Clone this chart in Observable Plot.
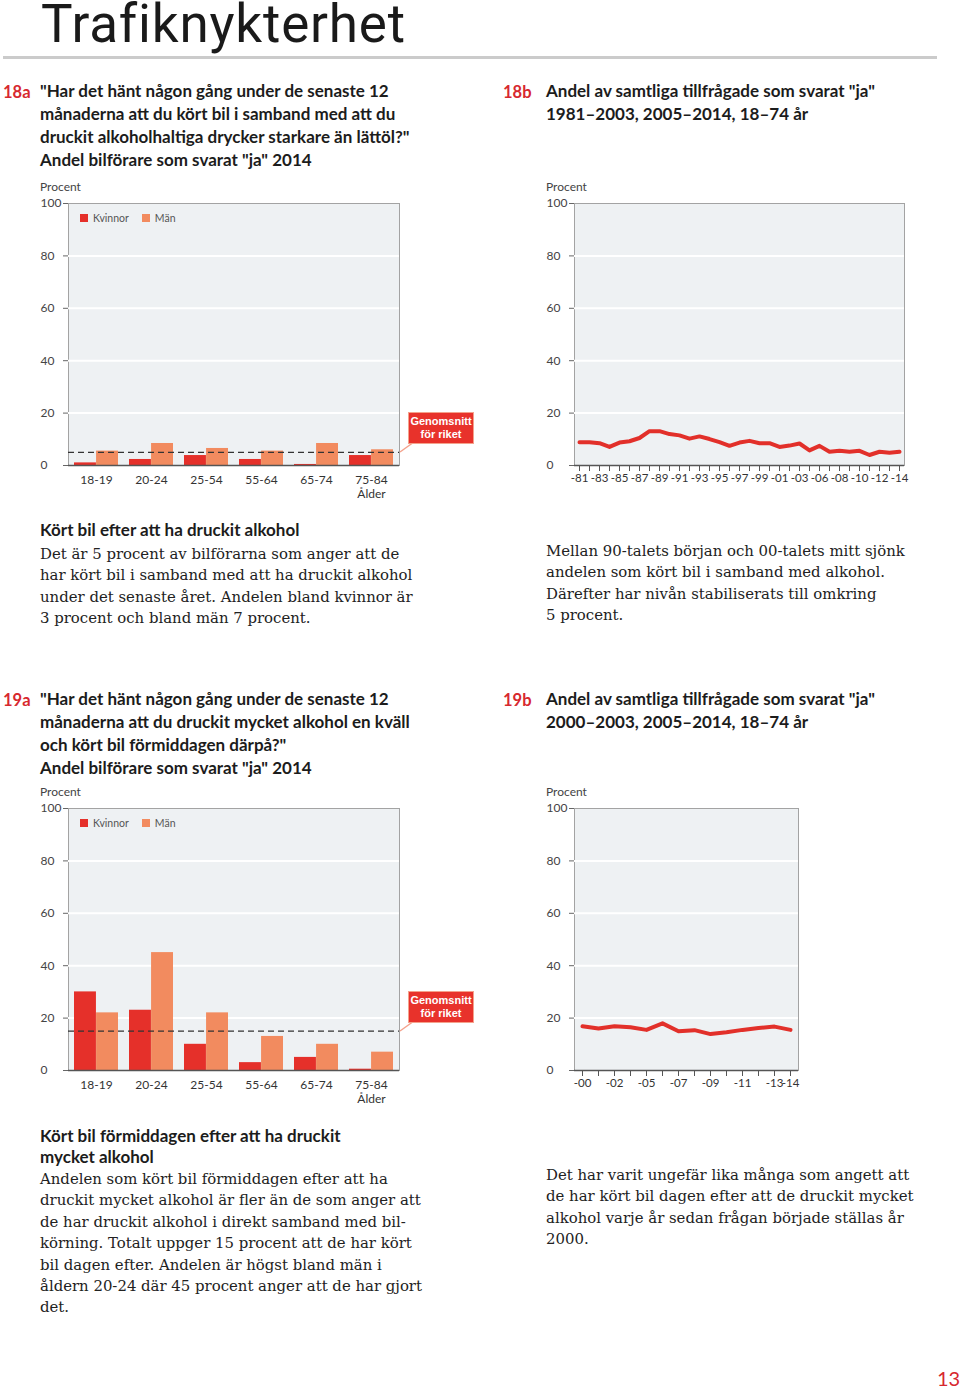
<!DOCTYPE html>
<html>
<head>
<meta charset="utf-8">
<script src="https://cdn.jsdelivr.net/npm/d3@7"></script>
<script src="https://cdn.jsdelivr.net/npm/@observablehq/plot@0.6"></script>
<style>
  html, body { margin: 0; padding: 0; background: #fff; }
  #page { position: relative; width: 960px; height: 1392px; overflow: hidden; }
  .abs { position: absolute; white-space: nowrap; }
  .title { font-family: Roboto, sans-serif; font-size: 53px; line-height: 46px; letter-spacing: 0.8px; color: #1a1a1a; }
  .rule { position: absolute; left: 3px; width: 934px; top: 56px; height: 3px; background: #cbcbcb; }
  .num { font-family: Lato, sans-serif; font-weight: 700; font-size: 16.5px; color: #d7282f; line-height: 22.9px; }
  .head { font-family: Lato, sans-serif; font-weight: 700; font-size: 17px; color: #1c1c1c; line-height: 22.9px; }
  .sub { font-family: Lato, sans-serif; font-weight: 700; font-size: 17px; color: #1c1c1c; line-height: 21.4px; }
  .body { font-family: "DejaVu Serif", serif; font-size: 14.9px; color: #222; line-height: 21.4px; }
  .procent { font-family: Lato, sans-serif; font-size: 12px; color: #444; line-height: 14px; }
  .legend { font-family: Lato, sans-serif; font-size: 10.5px; color: #555; display: flex; align-items: center; line-height: 12px; }
  .legend .sw { width: 8px; height: 8px; display: inline-block; margin-right: 5px; }
  .legend .it { display: inline-flex; align-items: center; margin-right: 13px; }
  .avgbox { position: absolute; background: #e8322b; border: 1px solid #f4a28c; color: #fff;
            font-family: "Liberation Sans", Arial, sans-serif; font-weight: 700; font-size: 11px;
            line-height: 13px; text-align: center; box-sizing: border-box; padding-top: 2px; }
  .chart { position: absolute; }
  .pg { font-family: Lato, sans-serif; font-size: 20px; color: #d7282f; line-height: 20px; }
</style>
</head>
<body>
<div id="page"></div>
<script>
// ---------------- DATA ----------------
const ages = ["18-19", "20-24", "25-54", "55-64", "65-74", "75-84"];
const xAxisLabel = "Ålder";
const seriesNames = ["Kvinnor", "Män"];
const yTicks = [0, 20, 40, 60, 80, 100];

// 18a: drove after drinking, share of drivers answering "ja" 2014
const women18a = [1, 2.3, 3.8, 2.3, 0.4, 3.8];
const men18a   = [5.5, 8.4, 6.5, 5.5, 8.4, 6];
const avg18a = 5;

// 18b: all respondents, 1981-2003, 2005-2014
const years18b = [1981, 1982, 1983, 1984, 1985, 1986, 1987, 1988, 1989, 1990, 1991, 1992,
                  1993, 1994, 1995, 1996, 1997, 1998, 1999, 2000, 2001, 2002, 2003,
                  2005, 2006, 2007, 2008, 2009, 2010, 2011, 2012, 2013, 2014];
const values18b = [8.9, 8.9, 8.5, 7.1, 8.75, 9.25, 10.5, 13.1, 13.1, 12, 11.5, 10.25,
                   11.1, 10.1, 8.9, 7.5, 8.75, 9.4, 8.5, 8.5, 7.1, 7.6, 8.4,
                   5.75, 7.5, 5.25, 5.6, 5.25, 5.6, 4, 5.25, 4.9, 5.25];
const labelYears18b = [1981, 1983, 1985, 1987, 1989, 1991, 1993, 1995, 1997, 1999, 2001, 2003,
                       2006, 2008, 2010, 2012, 2014];
const labels18b = ["-81", "-83", "-85", "-87", "-89", "-91", "-93", "-95", "-97", "-99", "-01", "-03",
                   "-06", "-08", "-10", "-12", "-14"];

// 19a: drove the morning after drinking a lot, share of drivers answering "ja" 2014
const women19a = [30, 23, 10, 3, 5, 0.5];
const men19a   = [22, 45, 22, 13, 10, 7];
const avg19a = 15;

// 19b: all respondents 2000-2003, 2005-2014
const years19b = [2000, 2001, 2002, 2003, 2005, 2006, 2007, 2008, 2009, 2010, 2011, 2012, 2013, 2014];
const values19b = [16.9, 16, 16.9, 16.5, 15.5, 18, 15, 15.4, 13.9, 14.6, 15.5, 16.25, 16.75, 15.5];
const labelYears19b = [2000, 2002, 2005, 2007, 2009, 2011, 2013, 2014];
const labels19b = ["-00", "-02", "-05", "-07", "-09", "-11", "-13", "-14"];

// ---------------- STYLE ----------------
const RED = "#e5302a";
const ORANGE = "#f28b5f";
const LINE = "#e2302a";
const BG = "#eef1f3";
const FONT = "Lato, sans-serif";

const page = document.getElementById("page");
function add(html) { page.insertAdjacentHTML("beforeend", html); }

function axisYMarks() {
  return [
    Plot.axisY({ticks: yTicks, tickSize: 5, tickFormat: () => "", label: null, stroke: "#666"}),
    Plot.text(yTicks, {y: d => d, frameAnchor: "left", dx: -28, textAnchor: "start",
                       fill: "#444", fontSize: 12})
  ];
}

function barChart(women, men, avg) {
  const W = 480, H = 330, mL = 68, mR = 81, mT = 23, mB = 45;
  const step = (W - mL - mR) / ages.length;
  const bw = step * 0.8;
  const data = ages.map((a, i) => ({age: a, women: women[i], men: men[i]}));
  return Plot.plot({
    width: W, height: H, marginLeft: mL, marginRight: mR, marginTop: mT, marginBottom: mB,
    style: {fontFamily: FONT, fontSize: "12px", color: "#444", background: "transparent", overflow: "visible"},
    x: {type: "band", domain: ages, paddingInner: 0.2, paddingOuter: 0.1, label: null},
    y: {domain: [0, 100], label: null},
    marks: [
      Plot.frame({fill: BG, stroke: "#a3a3a3"}),
      Plot.ruleY([20, 40, 60, 80], {stroke: "#ffffff", strokeWidth: 2}),
      Plot.barY(data, {x: "age", y: "women", fill: RED, insetLeft: 0, insetRight: bw / 2}),
      Plot.barY(data, {x: "age", y: "men", fill: ORANGE, insetLeft: bw / 2, insetRight: 0}),
      Plot.ruleY([avg], {stroke: "#333", strokeWidth: 1.2, strokeDasharray: "6,4"}),
      Plot.ruleY([0], {stroke: "#555", strokeWidth: 1.5}),
      ...axisYMarks(),
      Plot.axisX({tickSize: 0, tickPadding: 8, label: null, fill: "#333", lineHeight: 1.2,
                  tickFormat: d => d === ages[ages.length - 1] ? d + "\n" + xAxisLabel : d})
    ]
  });
}

function lineChart(years, values, labelYears, labels, mR) {
  const W = 480, H = 330, mL = 94, mT = 23, mB = 45;
  const lab = new Map(labelYears.map((y, i) => [y, labels[i]]));
  const data = years.map((y, i) => ({year: y, value: values[i]}));
  return Plot.plot({
    width: W, height: H, marginLeft: mL, marginRight: mR, marginTop: mT, marginBottom: mB,
    style: {fontFamily: FONT, fontSize: "11.5px", color: "#444", background: "transparent", overflow: "visible"},
    x: {type: "point", domain: years, padding: 0.12, label: null},
    y: {domain: [0, 100], label: null},
    marks: [
      Plot.frame({fill: BG, stroke: "#a3a3a3"}),
      Plot.ruleY([20, 40, 60, 80], {stroke: "#ffffff", strokeWidth: 2}),
      Plot.ruleY([0], {stroke: "#555", strokeWidth: 1.5}),
      Plot.axisX({ticks: years, tickSize: 6, tickPadding: 2, label: null, stroke: "#555", fill: "#333",
                  tickFormat: d => lab.get(d) ?? ""}),
      Plot.lineY(data, {x: "year", y: "value", stroke: LINE, strokeWidth: 4, strokeLinejoin: "round"}),
      ...axisYMarks()
    ]
  });
}

function place(svg, left, top) {
  const d = document.createElement("div");
  d.className = "chart";
  d.style.left = left + "px";
  d.style.top = top + "px";
  d.appendChild(svg);
  page.appendChild(d);
}

function legend(left, top) {
  add(`<div class="abs legend" style="left:${left}px;top:${top}px">
    <span class="it"><span class="sw" style="background:${RED}"></span>${seriesNames[0]}</span>
    <span class="it"><span class="sw" style="background:${ORANGE}"></span>${seriesNames[1]}</span>
  </div>`);
}

function avgBox(left, top, lineY) {
  add(`<svg class="abs" style="left:0;top:0;overflow:visible" width="1" height="1">
         <line x1="400" y1="${lineY}" x2="${left + 6}" y2="${top + 30}" stroke="#f4a28c" stroke-width="1.5"/>
       </svg>`);
  add(`<div class="avgbox" style="left:${left}px;top:${top}px;width:66px;height:32px">Genomsnitt<br>för riket</div>`);
}

// ---------------- PAGE ----------------
add(`<div class="abs title" style="left:41px;top:1px">Trafiknykterhet</div>`);
add(`<div class="rule"></div>`);

// 18a header
add(`<div class="abs num" style="left:3px;top:81px">18a</div>`);
add(`<div class="abs head" style="left:40px;top:80px">"Har det hänt någon gång under de senaste 12<br>månaderna att du kört bil i samband med att du<br>druckit alkoholhaltiga drycker starkare än lättöl?"<br>Andel bilförare som svarat "ja" 2014</div>`);
// 18b header
add(`<div class="abs num" style="left:503px;top:81px">18b</div>`);
add(`<div class="abs head" style="left:546px;top:80px">Andel av samtliga tillfrågade som svarat "ja"<br>1981–2003, 2005–2014, 18–74 år</div>`);

add(`<div class="abs procent" style="left:40px;top:180px">Procent</div>`);
add(`<div class="abs procent" style="left:546px;top:180px">Procent</div>`);

place(barChart(women18a, men18a, avg18a), 0, 180);
place(lineChart(years18b, values18b, labelYears18b, labels18b, 56), 480, 180);
legend(80, 212);
avgBox(408, 412, 452);

// 18 descriptions
add(`<div class="abs sub" style="left:40px;top:519px">Kört bil efter att ha druckit alkohol</div>`);
add(`<div class="abs body" style="left:40px;top:544px">Det är 5 procent av bilförarna som anger att de<br>har kört bil i samband med att ha druckit alkohol<br>under det senaste året. Andelen bland kvinnor är<br>3 procent och bland män 7 procent.</div>`);
add(`<div class="abs body" style="left:546px;top:541px">Mellan 90-talets början och 00-talets mitt sjönk<br>andelen som kört bil i samband med alkohol.<br>Därefter har nivån stabiliserats till omkring<br>5 procent.</div>`);

// 19a header
add(`<div class="abs num" style="left:3px;top:689px">19a</div>`);
add(`<div class="abs head" style="left:40px;top:688px">"Har det hänt någon gång under de senaste 12<br>månaderna att du druckit mycket alkohol en kväll<br>och kört bil förmiddagen därpå?"<br>Andel bilförare som svarat "ja" 2014</div>`);
// 19b header
add(`<div class="abs num" style="left:503px;top:689px">19b</div>`);
add(`<div class="abs head" style="left:546px;top:688px">Andel av samtliga tillfrågade som svarat "ja"<br>2000–2003, 2005–2014, 18–74 år</div>`);

add(`<div class="abs procent" style="left:40px;top:785px">Procent</div>`);
add(`<div class="abs procent" style="left:546px;top:785px">Procent</div>`);

place(barChart(women19a, men19a, avg19a), 0, 785);
place(lineChart(years19b, values19b, labelYears19b, labels19b, 162), 480, 785);
legend(80, 817);
avgBox(408, 991, 1031);

// 19 descriptions
add(`<div class="abs sub" style="left:40px;top:1125px">Kört bil förmiddagen efter att ha druckit<br>mycket alkohol</div>`);
add(`<div class="abs body" style="left:40px;top:1169px">Andelen som kört bil förmiddagen efter att ha<br>druckit mycket alkohol är fler än de som anger att<br>de har druckit alkohol i direkt samband med bil-<br>körning. Totalt uppger 15 procent att de har kört<br>bil dagen efter. Andelen är högst bland män i<br>åldern 20-24 där 45 procent anger att de har gjort<br>det.</div>`);
add(`<div class="abs body" style="left:546px;top:1165px">Det har varit ungefär lika många som angett att<br>de har kört bil dagen efter att de druckit mycket<br>alkohol varje år sedan frågan började ställas år<br>2000.</div>`);

add(`<div class="abs pg" style="left:937px;top:1368px">13</div>`);
</script>
</body>
</html>
